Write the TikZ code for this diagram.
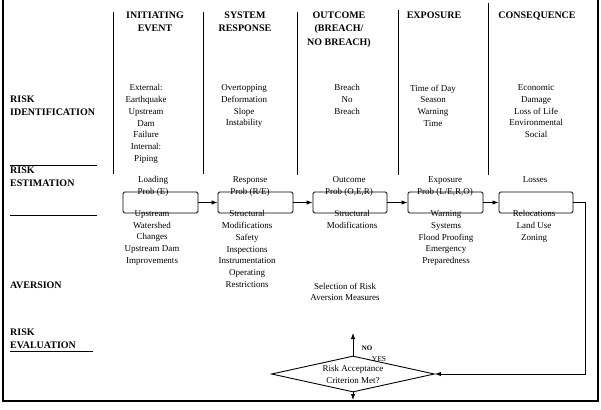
\documentclass[tikz,border=0pt]{standalone}
\usepackage{fontspec}
\setmainfont{Liberation Serif}
\usetikzlibrary{shapes.geometric,arrows.meta}
\begin{document}
\begin{tikzpicture}[x=1pt,y=-1pt,
 txt/.style={font=\fontsize{9}{11.7}\selectfont, align=center, inner sep=0pt, anchor=north},
 hdr/.style={font=\fontsize{10}{13.5}\selectfont\bfseries, align=center, inner sep=0pt, anchor=north},
 lbl/.style={font=\fontsize{10}{13}\selectfont\bfseries, align=left, inner sep=0pt, anchor=north west},
 stagebox/.style={draw, line width=0.9pt, rounded corners=1.5pt, minimum width=75pt, minimum height=21pt, inner sep=0pt},
 arr/.style={line width=0.9pt, -{Latex[length=6pt,width=4.5pt]}},
 sep/.style={line width=0.8pt},
 frm/.style={line width=1.4pt},
 rule/.style={line width=0.6pt}]
\useasboundingbox (0,0) rectangle (601,409);
% frame
\draw[frm] (3,0) -- (3,401) -- (598,401) -- (598,0);
% column separators
\draw[sep] (113,12) -- (113,174);
\draw[sep] (203,12) -- (203,174);
\draw[sep] (297,12) -- (297,175);
\draw[sep] (398,10) -- (398,175);
\draw[sep] (488,3) -- (488,175);
% headers
\node[hdr] (h1) at (155,11.5) {INITIATING\\EVENT};
\node[hdr] (h2) at (245,11.5) {SYSTEM\\RESPONSE};
\node[hdr] (h3) at (339,11.5) {OUTCOME\\(BREACH/\\NO BREACH)};
\node[hdr] (h4) at (434,11.5) {EXPOSURE};
\node[hdr] (h5) at (537,11.5) {CONSEQUENCE};
% row labels
\node[lbl] (l1) at (10,95.5) {RISK\\IDENTIFICATION};
\node[lbl] (l2) at (10,166.5) {RISK\\ESTIMATION};
\node[lbl] (l3) at (10,281.5) {AVERSION};
\node[lbl] (l4) at (10,328.5) {RISK\\EVALUATION};
\draw[rule] (10,165) -- (97,165);
\draw[rule] (10,215) -- (97,215);
\draw[rule] (10,351) -- (93,351);
% identification
\node[txt] (i1) at (146,84.5) {External:\\Earthquake\\Upstream\\Dam\\Failure\\Internal:\\Piping};
\node[txt] (i2) at (244,84.5) {Overtopping\\Deformation\\Slope\\Instability};
\node[txt] (i3) at (347,84.5) {Breach\\No\\Breach};
\node[txt] (i4) at (433,84.5) {Time of Day\\Season\\Warning\\Time};
\node[txt] (i5) at (536,84.5) {Economic\\Damage\\Loss of Life\\Environmental\\Social};
% boxes
\node[stagebox] (b1) at (160.5,202.5) {};
\node[stagebox] (b2) at (255.5,202.5) {};
\node[stagebox,minimum width=74pt] (b3) at (350,202.5) {};
\node[stagebox] (b4) at (445.5,202.5) {};
\node[stagebox,minimum width=74pt] (b5) at (536,202.5) {};
% estimation
\node[txt] (e1) at (153,176.5) {Loading\\Prob (E)};
\node[txt] (e2) at (250,176.5) {Response\\Prob (R/E)};
\node[txt] (e3) at (349,176.5) {Outcome\\Prob (O,E,R)};
\node[txt] (e4) at (445,176.5) {Exposure\\Prob (L/E,R,O)};
\node[txt] (e5) at (535,176.5) {Losses};
% aversion
\node[txt] (a1) at (152,210.5) {Upstream\\Watershed\\Changes\\Upstream Dam\\Improvements};
\node[txt] (a2) at (247,210.5) {Structural\\Modifications\\Safety\\Inspections\\Instrumentation\\Operating\\Restrictions};
\node[txt] (a3) at (352,210.5) {Structural\\Modifications};
\node[txt] (a4) at (446,210.5) {Warning\\Systems\\Flood Proofing\\Emergency\\Preparedness};
\node[txt] (a5) at (534,210.5) {Relocations\\Land Use\\Zoning};
\node[txt] (sel) at (345,282.5) {Selection of Risk\\Aversion Measures};
% decision
\node[draw, diamond, aspect=4.5, minimum width=163pt, minimum height=36pt, inner sep=0pt, line width=0.9pt,
      font=\fontsize{9}{12}\selectfont, align=center] (d) at (353,374) {Risk Acceptance\\Criterion Met?};
% connectors
\draw[arr] (b1.east) -- (b2.west);
\draw[arr] (b2.east) -- (b3.west);
\draw[arr] (b3.east) -- (b4.west);
\draw[arr] (b4.east) -- (b5.west);
\coordinate (c1) at (585,202.5);
\coordinate (c2) at (585,374);
\draw[arr] (b5.east) -- (c1) -- (c2) -- (d.east);
\coordinate (up) at (353,333);
\draw[arr] (d.north) -- (up);
\coordinate (dn) at (353,400);
\draw[arr] (d.south) -- (dn);
\node[font=\fontsize{7}{8}\selectfont\bfseries, inner sep=0pt] (nol) at (367,348) {NO};
\node[font=\fontsize{7.5}{8}\selectfont, inner sep=0pt] (yesl) at (379,359) {YES};
\end{tikzpicture}
\end{document}
